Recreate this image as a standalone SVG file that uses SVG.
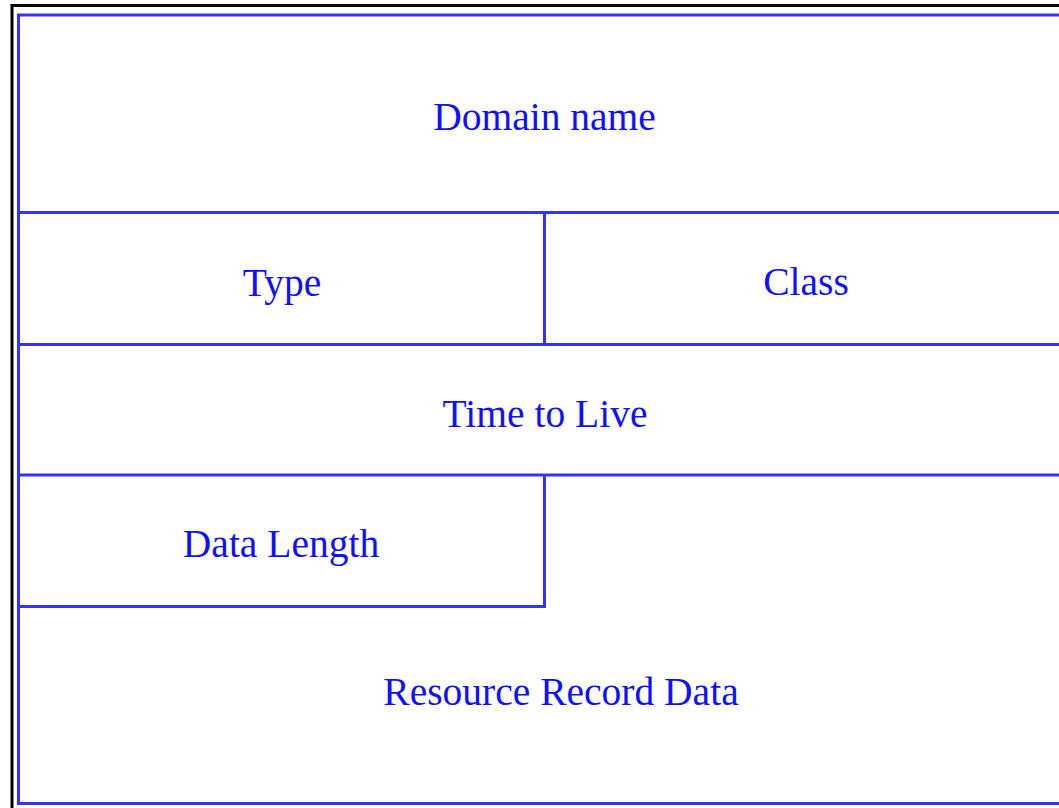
<svg xmlns="http://www.w3.org/2000/svg" width="1059" height="808" viewBox="0 0 1059 808">
  <style>
    .frame { fill: none; stroke: #000; stroke-width: 3; }
    .cell { fill: none; stroke: #3333ff; stroke-width: 3; }
    .label { font-family: "Liberation Serif", "Times New Roman", serif; font-size: 39.5px; fill: #1010ff; text-anchor: middle; }
  </style>
  <rect x="0" y="0" width="1059" height="808" fill="#fff"/>
  <!-- outer black frame -->
  <rect class="frame" x="12" y="5.5" width="1060" height="820"/>
  <!-- resource record layout -->
  <g id="domain-name">
    <path class="cell" d="M1070 15 H18.5 V212.5 H1070"/>
    <text class="label" x="544.5" y="130">Domain name</text>
  </g>
  <g id="type">
    <path class="cell" d="M18.5 212.5 V344.5 H544.5 V212.5"/>
    <text class="label" x="282" y="296">Type</text>
  </g>
  <g id="class">
    <path class="cell" d="M544.5 344.5 H1070"/>
    <text class="label" x="806" y="295">Class</text>
  </g>
  <g id="time-to-live">
    <path class="cell" d="M18.5 344.5 V475 H1070"/>
    <text class="label" x="545" y="427">Time to Live</text>
  </g>
  <g id="data-length">
    <path class="cell" d="M18.5 475 V606.5 H544.5 V475"/>
    <text class="label" x="281" y="557">Data Length</text>
  </g>
  <g id="resource-record-data">
    <path class="cell" d="M18.5 606.5 V803.5 H1070"/>
    <text class="label" x="561" y="705">Resource Record Data</text>
  </g>
</svg>
